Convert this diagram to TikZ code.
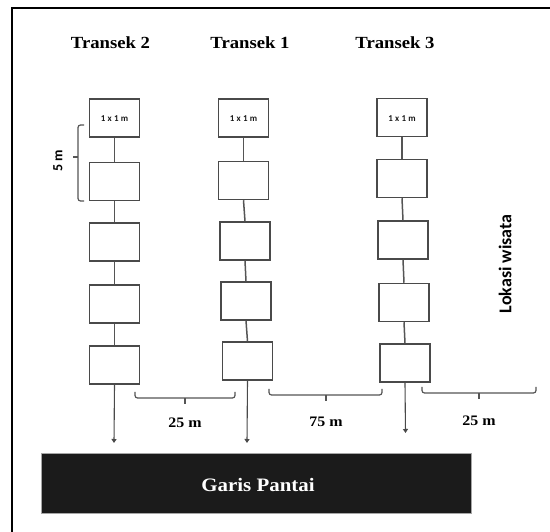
\documentclass[tikz,border=0pt]{standalone}
\usepackage{fontspec}
\setmainfont{Liberation Serif}
\newfontfamily\titlefont{Liberation Serif}[FakeStretch=1.1]
\newfontfamily\sansfont{Carlito}
\newfontfamily\sizefont{Carlito}[LetterSpace=25]
\usetikzlibrary{arrows.meta}
\definecolor{boxgray}{HTML}{4A4A4A}
\definecolor{linegray}{HTML}{555555}
\definecolor{shore}{HTML}{1B1B1B}
\tikzset{
  plot/.style={draw=boxgray, line width=1.5pt, minimum width=50pt, minimum height=38pt, inner sep=0pt, fill=white},
  link/.style={draw=linegray, line width=1.5pt},
  toshore/.style={draw=boxgray, line width=1.1pt, -{Triangle[width=5pt,length=4pt]}},
  brace/.style={draw=linegray, line width=1.2pt, rounded corners=2.5pt},
  tick/.style={draw=linegray, line width=1.2pt},
  title/.style={font=\titlefont\bfseries\fontsize{17}{17}\selectfont, anchor=base},
  dist/.style={font=\titlefont\bfseries\fontsize{14.5}{14.5}\selectfont, anchor=base},
  sizelabel/.style={font=\sizefont\bfseries\fontsize{9}{9}\selectfont, text=black!90},
  frame/.style={draw=black, line width=2.6pt},
}
\begin{document}
\begin{tikzpicture}[x=1pt, y=-1pt]
\useasboundingbox (0,0) rectangle (550,532);
% outer frame (top and left edges)
\draw[frame] (12,532) -- (12,8) -- (550,8);

% transect titles
\node[title] (t2) at (110.5,49) {Transek 2};
\node[title] (t1) at (250,49) {Transek 1};
\node[title] (t3) at (395,49) {Transek 3};

% Transek 2 plots
\node[plot] (a1) at (114.5,118) {};
\node[plot] (a2) at (114.5,181.5) {};
\node[plot] (a3) at (114.5,242) {};
\node[plot] (a4) at (114.5,304) {};
\node[plot] (a5) at (114.5,365) {};
% Transek 1 plots
\node[plot] (b1) at (243.5,118) {};
\node[plot] (b2) at (243.5,180.5) {};
\node[plot] (b3) at (245,241) {};
\node[plot] (b4) at (246,301) {};
\node[plot] (b5) at (247.5,361) {};
% Transek 3 plots
\node[plot] (c1) at (402,117.5) {};
\node[plot] (c2) at (402,178.5) {};
\node[plot] (c3) at (403,240) {};
\node[plot] (c4) at (404,302.5) {};
\node[plot] (c5) at (405,363) {};

% plot size labels
\foreach \p in {a1,b1,c1}
  \node[sizelabel] at (\p.center) [yshift=-1pt] {1x1m};

% links between plots
\foreach \col in {a,b,c}{
  \draw[link] (\col1.south) -- (\col2.north);
  \draw[link] (\col2.south) -- (\col3.north);
  \draw[link] (\col3.south) -- (\col4.north);
  \draw[link] (\col4.south) -- (\col5.north);
}

% arrows towards the shoreline
\coordinate (ea) at (114,443);
\coordinate (eb) at (247,443);
\coordinate (ec) at (405.5,433);
\draw[toshore] (a5.south) -- (ea);
\draw[toshore] (b5.south) -- (eb);
\draw[toshore] (c5.south) -- (ec);

% 5 m spacing bracket
\draw[brace] (84,125) -- (78,125) -- (78,201) -- (84,201);
\draw[tick] (78,157) -- (73,157);
\node[font=\sansfont\bfseries\fontsize{14}{14}\selectfont, rotate=90] (five) at (58,161) {5 m};

% distance brackets
\draw[brace] (135,392) -- (135,398) -- (235,398) -- (235,392);
\draw[tick] (185,398) -- (185,404);
\node[dist] (d1) at (185,428) {25 m};

\draw[brace] (269,389) -- (269,395) -- (382,395) -- (382,389);
\draw[tick] (326,395) -- (326,401);
\node[dist] (d2) at (326,427) {75 m};

\draw[brace] (422,387) -- (422,393) -- (536,393) -- (536,387);
\draw[tick] (479,393) -- (479,399);
\node[dist] (d3) at (479,426) {25 m};

% tourist area label
\node[font=\sansfont\bfseries\fontsize{18}{18}\selectfont, rotate=90] (lok) at (505,264) {Lokasi wisata};

% shoreline
\node[fill=shore, draw=gray!70, line width=0.6pt, minimum width=430pt, minimum height=60pt, inner sep=0pt] (shoreline) at (256,483) {};
\node[font=\titlefont\bfseries\fontsize{19}{19}\selectfont, text=white, anchor=base] (gp) at (258,491) {Garis Pantai};
\end{tikzpicture}
\end{document}
